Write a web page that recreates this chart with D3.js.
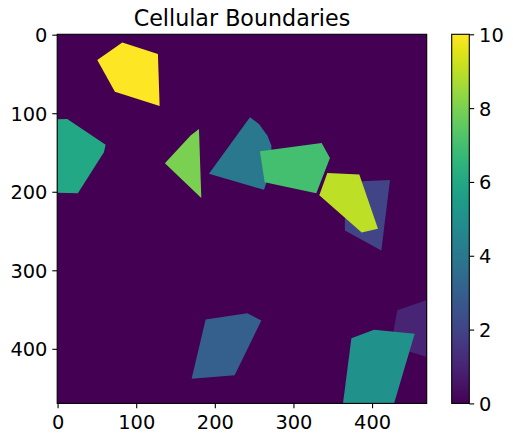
<!DOCTYPE html>
<html>
<head>
<meta charset="utf-8">
<script src="https://cdn.jsdelivr.net/npm/d3@7"></script>
<style>
  html, body { margin: 0; padding: 0; background: #fff; }
  text { font-family: "DejaVu Sans", sans-serif; fill: #000; }
</style>
</head>
<body>
<svg id="chart" width="513" height="442"></svg>
<script>
// ---- data (image coordinates: column, row) ----
const imageSize = [470, 470];
const cellValues = [1, 2, 3, 4, 5, 6, 7, 8, 9, 10];
const cellPolygons = [
  // 1
  [[432, 351], [472, 337], [472, 411], [446, 403], [426, 385]],
  // 2
  [[387.7, 186.6], [422.8, 184.9], [411.8, 274.8], [365.4, 249.4], [365.4, 235.8], [370, 210]],
  // 3
  [[188.3, 362.6], [241.3, 354.6], [259.2, 363.9], [225.2, 433.8], [170.5, 438]],
  // 4
  [[244.7, 105.2], [256.1, 113.6], [266.8, 128.5], [271.9, 141.2], [272, 170], [262.5, 197.6], [192.5, 177.2]],
  // 5
  [[373.7, 386.4], [402.4, 375.7], [454.2, 380.8], [424.9, 480], [361.7, 480]],
  // 6
  [[-5, 108], [12.3, 107.2], [61.1, 140], [58.9, 149.8], [25.8, 201.9], [-5, 201]],
  // 7
  [[257.4, 148.3], [335.9, 137.8], [346.4, 156.9], [329.1, 201.9], [263.4, 187.9]],
  // 8
  [[136.5, 163.7], [169.2, 128.5], [179.8, 120], [182.8, 207.8]],
  // 9
  [[343.1, 176], [383.8, 178.1], [407.5, 247.2], [386.8, 251.9], [332.9, 204.5]],
  // 10
  [[50.5, 32.2], [82.3, 9.8], [127.6, 24.6], [129.8, 90.7], [72.9, 72.5]]
];
const backgroundValue = 0;
const xTicks = [0, 100, 200, 300, 400];
const yTicks = [0, 100, 200, 300, 400];
const colorTicks = [0, 2, 4, 6, 8, 10];
const colorDomain = [0, 10];
const title = "Cellular Boundaries";

// ---- layout ----
const fs = 19.4;
const titleFs = 22.2;
const ax = { left: 57.2, right: 426.7, top: 34.3, bottom: 403.4 };
const cb = { left: 451.7, right: 469.3, top: 34.3, bottom: 403.4 };

const svg = d3.select("#chart");
const x = d3.scaleLinear().domain([-0.5, imageSize[0] - 0.5]).range([ax.left, ax.right]);
const y = d3.scaleLinear().domain([-0.5, imageSize[1] - 0.5]).range([ax.top, ax.bottom]);
const color = d3.scaleSequential(d3.interpolateViridis).domain(colorDomain);

const defs = svg.append("defs");
defs.append("clipPath").attr("id", "clipImg")
  .append("rect")
  .attr("x", ax.left).attr("y", ax.top)
  .attr("width", ax.right - ax.left).attr("height", ax.bottom - ax.top);

// background
svg.append("rect")
  .attr("x", ax.left).attr("y", ax.top)
  .attr("width", ax.right - ax.left).attr("height", ax.bottom - ax.top)
  .attr("fill", color(backgroundValue));

const line = d3.line().x(d => x(d[0])).y(d => y(d[1])).curve(d3.curveLinearClosed);
const cells = cellPolygons.map((p, i) => ({ poly: p, value: cellValues[i] }))
  .sort((a, b) => a.value - b.value);

svg.append("g").attr("clip-path", "url(#clipImg)")
  .selectAll("path").data(cells).join("path")
  .attr("d", d => line(d.poly))
  .attr("fill", d => color(d.value))
  .attr("stroke", "none");

// axes
const tickLen = 4.9, pad = 4.9;
const xAxis = d3.axisBottom(x).tickValues(xTicks).tickSize(tickLen).tickPadding(pad).tickFormat(d3.format("d"));
const yAxis = d3.axisLeft(y).tickValues(yTicks).tickSize(tickLen).tickPadding(pad).tickFormat(d3.format("d"));

const gx = svg.append("g").attr("transform", `translate(0,${ax.bottom})`).call(xAxis);
const gy = svg.append("g").attr("transform", `translate(${ax.left},0)`).call(yAxis);
[gx, gy].forEach(g => {
  g.select(".domain").remove();
  g.selectAll("line").attr("stroke", "#000").attr("stroke-width", 1.1);
  g.selectAll("text").attr("font-size", fs).attr("font-family", "DejaVu Sans").attr("fill", "#000");
});
gx.selectAll("text").attr("dy", null).attr("y", tickLen + pad + 15.8);
gy.selectAll("text").attr("dy", null).attr("dominant-baseline", "auto").attr("transform", `translate(0, ${0.36 * fs})`);

// spines
svg.append("rect")
  .attr("x", ax.left).attr("y", ax.top)
  .attr("width", ax.right - ax.left).attr("height", ax.bottom - ax.top)
  .attr("fill", "none").attr("stroke", "#000").attr("stroke-width", 1.1);

// title
svg.append("text")
  .attr("x", (ax.left + ax.right) / 2).attr("y", 26)
  .attr("text-anchor", "middle").attr("font-size", titleFs)
  .text(title);

// colorbar
const grad = defs.append("linearGradient").attr("id", "cbGrad")
  .attr("x1", 0).attr("y1", 1).attr("x2", 0).attr("y2", 0);
d3.range(0, 1.0001, 0.05).forEach(t => {
  grad.append("stop").attr("offset", t).attr("stop-color", d3.interpolateViridis(t));
});
svg.append("rect")
  .attr("x", cb.left).attr("y", cb.top)
  .attr("width", cb.right - cb.left).attr("height", cb.bottom - cb.top)
  .attr("fill", "url(#cbGrad)")
  .attr("stroke", "#000").attr("stroke-width", 1.1);

const cy = d3.scaleLinear().domain(colorDomain).range([cb.bottom, cb.top]);
const cAxis = d3.axisRight(cy).tickValues(colorTicks).tickSize(tickLen).tickPadding(pad).tickFormat(d3.format("d"));
const gc = svg.append("g").attr("transform", `translate(${cb.right},0)`).call(cAxis);
gc.select(".domain").remove();
gc.selectAll("line").attr("stroke", "#000").attr("stroke-width", 1.1);
gc.selectAll("text").attr("font-size", fs).attr("font-family", "DejaVu Sans").attr("fill", "#000")
  .attr("dy", null).attr("transform", `translate(0, ${0.36 * fs})`);
</script>
</body>
</html>
